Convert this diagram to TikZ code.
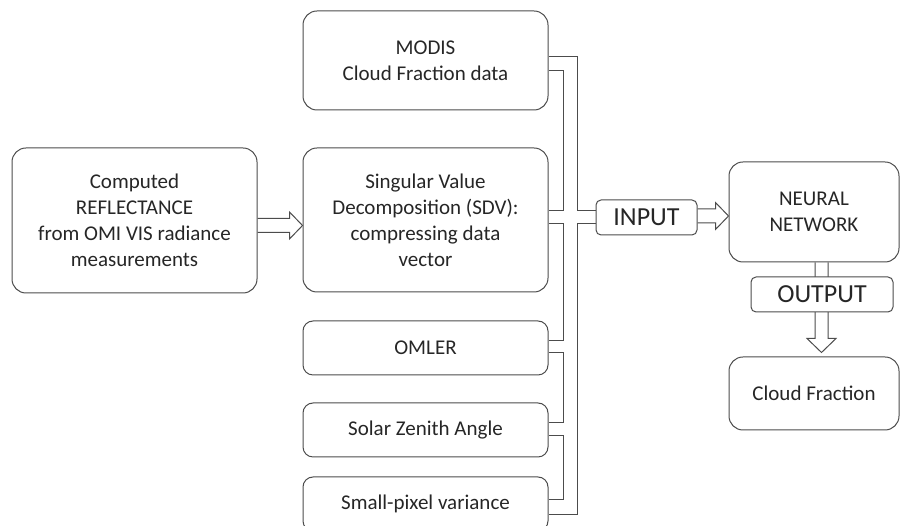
\documentclass[tikz,border=0pt]{standalone}
\usepackage{fontspec}
\setmainfont{Carlito}
\usetikzlibrary{calc,positioning}

\tikzset{
  block/.style={draw=black!70, line width=1pt, rounded corners=14pt, align=center,
    text=black!85, font=\fontsize{21}{26}\selectfont, minimum width=245pt, inner sep=2pt},
  smallblock/.style={block, rounded corners=10pt, minimum height=54pt},
  tag/.style={draw=black!70, line width=1pt, rounded corners=5pt, fill=white,
    text=black!85, font=\fontsize{26}{30}\selectfont, minimum height=35pt, inner sep=2pt},
  pipe/.style={draw=black!70, line width=1pt}
}

% hollow block arrows
\newcommand{\harrow}[2]{%
  \draw[pipe] let \p1=(#1), \p2=(#2) in
    (\x1,\y1+7pt) -- (\x2-13pt,\y1+7pt) -- (\x2-13pt,\y1+13.5pt) -- (\x2,\y1)
    -- (\x2-13pt,\y1-13.5pt) -- (\x2-13pt,\y1-7pt) -- (\x1,\y1-7pt);}
\newcommand{\varrow}[2]{%
  \draw[pipe] let \p1=(#1), \p2=(#2) in
    (\x1-6.5pt,\y1) -- (\x1-6.5pt,\y2+14pt) -- (\x1-14.5pt,\y2+14pt) -- (\x1,\y2)
    -- (\x1+14.5pt,\y2+14pt) -- (\x1+6.5pt,\y2+14pt) -- (\x1+6.5pt,\y1);}

\begin{document}
\begin{tikzpicture}[x=1pt,y=1pt]
	\useasboundingbox (0,0) rectangle (903,526);
	
	\node[block, minimum height=145pt] (refl) at (134.5,305.5) {Computed\\REFLECTANCE\\from OMI VIS radiance\\measurements};
	\node[block, minimum height=144pt] (svd) at (425.5,306) {Singular Value\\Decomposition (SDV):\\compressing data\\vector};
	\node[block, minimum height=99pt] (modis) at (425.5,465.5) {MODIS\\Cloud Fraction data};
	\node[smallblock] (omler) at (425.5,178) {OMLER};
	\node[smallblock] (solar) at (425.5,96) {Solar Zenith Angle};
	\node[smallblock] (pixel) at (425.5,22) {Small-pixel variance};
	\node[block, minimum width=170pt, minimum height=100pt] (nn) at (814,314) {NEURAL\\NETWORK};
	\node[block, minimum width=170pt, minimum height=73pt] (cloud) at (814,132.5) {Cloud Fraction};
	\node[tag, minimum width=101pt] (input) at (646.5,308.5) {INPUT};
	
	% outer rail of the input pipe
	\draw[pipe] (modis.east |- 0,469) -| (577,315) -- (input.west |- 0,315);
	\draw[pipe] (input.west |- 0,302) -| (577,11) -- (pixel.east |- 0,11);
	% inner rail
	\draw[pipe] (modis.east |- 0,455) -| (563,315) -- (svd.east |- 0,315);
	\draw[pipe] (svd.east |- 0,302) -| (563,185) -- (omler.east |- 0,185);
	\draw[pipe] (omler.east |- 0,173) -| (563,103) -- (solar.east |- 0,103);
	\draw[pipe] (solar.east |- 0,90) -| (563,26) -- (pixel.east |- 0,26);
	
	\harrow{[yshift=-5pt]refl.east}{svd.west}
	\harrow{[yshift=1.5pt]input.east}{nn.west}
	\varrow{[xshift=7.5pt]nn.south}{[yshift=4pt]cloud.north}
	
	\node[tag, minimum width=142pt] (output) at (822,231.5) {OUTPUT};
\end{tikzpicture}
\end{document}
